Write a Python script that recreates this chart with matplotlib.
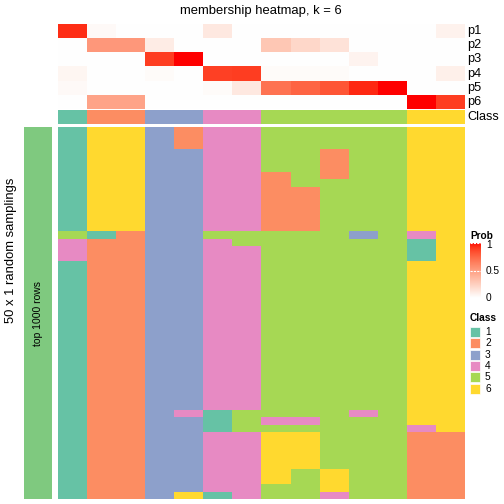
import numpy as np
import matplotlib
matplotlib.use('Agg')
import matplotlib.pyplot as plt
from matplotlib.colors import ListedColormap

plt.rcParams['font.family'] = ['Liberation Sans', 'DejaVu Sans']

# membership probabilities, 14 samples
p1 = [0.94, 0.03, 0, 0, 0, 0.12, 0, 0, 0, 0, 0, 0, 0, 0.07]
p2 = [0, 0.53, 0.53, 0.10, 0, 0, 0, 0.29, 0.21, 0.15, 0, 0, 0, 0]
p3 = [0, 0, 0, 0.90, 1.0, 0, 0, 0, 0, 0, 0.06, 0, 0, 0]
p4 = [0.05, 0, 0, 0.02, 0, 0.89, 0.90, 0.02, 0.02, 0.02, 0, 0, 0, 0.08]
p5 = [0.03, 0, 0, 0, 0, 0.02, 0.12, 0.70, 0.76, 0.82, 0.95, 1.0, 0, 0]
p6 = [0, 0.47, 0.47, 0, 0, 0, 0, 0, 0, 0, 0, 0, 1.0, 0.90]
row_names = ['p1', 'p2', 'p3', 'p4', 'p5', 'p6']
classes = [1, 2, 2, 3, 3, 4, 4, 5, 5, 5, 5, 5, 6, 6]

# class per random sampling (50 rows), as (class, run length) per column
samplings = [
    [(1, 14), (5, 1), (4, 3), (1, 32)],
    [(6, 14), (1, 1), (2, 35)],
    [(6, 14), (2, 36)],
    [(3, 50)],
    [(2, 3), (3, 35), (4, 1), (3, 10), (6, 1)],
    [(4, 14), (5, 1), (4, 23), (1, 3), (4, 8), (1, 1)],
    [(4, 14), (5, 2), (4, 22), (5, 3), (4, 9)],
    [(5, 6), (2, 8), (5, 25), (4, 1), (5, 1), (6, 7), (5, 2)],
    [(5, 8), (2, 6), (5, 25), (4, 1), (5, 1), (6, 5), (5, 4)],
    [(5, 3), (2, 4), (5, 39), (6, 3), (4, 1)],
    [(5, 14), (3, 1), (5, 23), (4, 1), (5, 11)],
    [(5, 50)],
    [(6, 14), (4, 1), (1, 3), (6, 22), (4, 1), (2, 9)],
    [(6, 41), (2, 9)],
]

set2 = ['#66C2A5', '#FC8D62', '#8DA0CB', '#E78AC3', '#A6D854', '#FFD92F']
class_cmap = ListedColormap(set2)


# white -> red ramp interpolated in CIE LAB (like colorRamp2)
def lab_to_rgb(L, a, b):
    fy = (L + 16) / 116
    fx = fy + a / 500
    fz = fy - b / 200
    def finv(f):
        return np.where(f > 6 / 29, f ** 3, 3 * (6 / 29) ** 2 * (f - 4 / 29))
    X, Y, Z = 0.95047 * finv(fx), finv(fy), 1.08883 * finv(fz)
    M = np.array([[3.2406, -1.5372, -0.4986],
                  [-0.9689, 1.8758, 0.0415],
                  [0.0557, -0.2040, 1.0570]])
    lin = np.clip(M @ np.vstack([X, Y, Z]), 0, 1)
    srgb = np.where(lin <= 0.0031308, 12.92 * lin, 1.055 * lin ** (1 / 2.4) - 0.055)
    return np.clip(srgb.T, 0, 1)

t = np.linspace(0, 1, 256)
prob_cmap = ListedColormap(lab_to_rgb(100 - 46.76 * t, 80.09 * t, 67.20 * t))

W = H = 504
fig = plt.figure(figsize=(5.04, 5.04), dpi=100)


def px_axes(x0, y0, x1, y1):
    ax = fig.add_axes([x0 / W, 1 - y1 / H, (x1 - x0) / W, (y1 - y0) / H])
    ax.set_axis_off()
    return ax


P = np.array([p1, p2, p3, p4, p5, p6])
ax_p = px_axes(58, 24, 465, 109)
ax_p.imshow(P, cmap=prob_cmap, vmin=0, vmax=1, aspect='auto', interpolation='nearest')
for i, name in enumerate(row_names):
    fig.text(467 / W, 1 - (24 + (i + 0.5) * 85 / 6) / H, name, fontsize=9.2, va='center')

ax_c = px_axes(58, 110, 465, 124)
ax_c.imshow(np.array([classes]), cmap=class_cmap, vmin=0.5, vmax=6.5, aspect='auto',
            interpolation='nearest')
fig.text(467 / W, 1 - 117 / H, 'Class', fontsize=9.2, va='center')

fig.text(261 / W, 1 - 11 / H, 'membership heatmap, k = 6', fontsize=9.4,
         ha='center', va='center')

M = np.array([np.repeat([c for c, n in col], [n for c, n in col]) for col in samplings]).T
ax_m = px_axes(58, 127, 465, 499)
ax_m.imshow(M, cmap=class_cmap, vmin=0.5, vmax=6.5, aspect='auto', interpolation='nearest')

ax_g = px_axes(24, 127, 52, 499)
ax_g.imshow([[0]], cmap=ListedColormap(['#7FC97F']), aspect='auto')
fig.text(38 / W, 1 - 314 / H, 'top 1000 rows', fontsize=7.5, rotation=90,
         ha='center', va='center')
fig.text(11 / W, 1 - 250 / H, '50 x 1 random samplings', fontsize=9.4, rotation=90,
         ha='center', va='center')

# legends
fig.text(470 / W, 1 - 236 / H, 'Prob', fontsize=7.3, fontweight='bold', va='center')
ax_cb = px_axes(470, 243, 481, 298)
ax_cb.imshow(np.linspace(1, 0, 100)[:, None], cmap=prob_cmap, aspect='auto',
             extent=[0, 1, 0, 1])
for v, lab in [(0, '0'), (0.5, '0.5'), (1, '1')]:
    yy = 298 - v * 55
    ax_cb.axhline(v, color='white', lw=0.8, ls=(0, (2, 1)))
    fig.text(486 / W, 1 - min(max(yy, 245), 300) / H, lab, fontsize=7.3, va='center')

fig.text(470 / W, 1 - 318 / H, 'Class', fontsize=7.3, fontweight='bold', va='center')
for i, c in enumerate(set2):
    y0 = 327 + i * 11.3
    fig.patches.append(plt.Rectangle((470 / W, 1 - (y0 + 10) / H), 10 / W, 10 / H,
                                     facecolor=c, edgecolor='white', lw=0.5,
                                     transform=fig.transFigure))
    fig.text(485 / W, 1 - (y0 + 5) / H, str(i + 1), fontsize=7.3, va='center')

fig.savefig('out.png', dpi=100)
